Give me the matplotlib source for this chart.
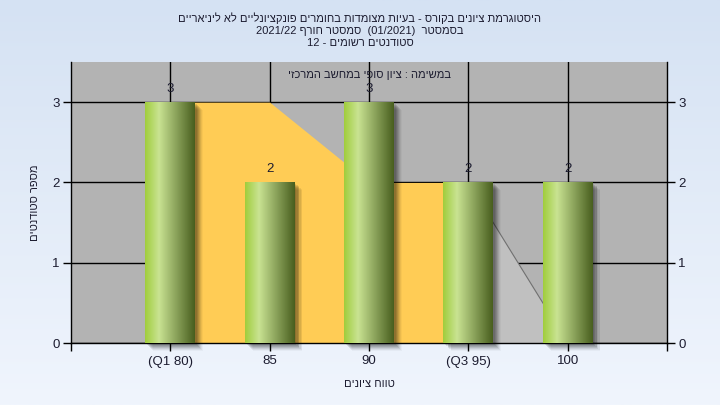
import re

import numpy as np
import matplotlib
matplotlib.use("Agg")
import matplotlib.pyplot as plt
from matplotlib.colors import LinearSegmentedColormap
from matplotlib.patches import Rectangle
from matplotlib.ticker import FixedLocator

# data
categories = ["(Q1 80)", "85", "90", "(Q3 95)", "100"]
counts = [3, 2, 3, 2, 2]
# yellow band (Q1..Q3) and grey tail behind the bars
band_x = [0, 1, 2, 3]
band_y = [3, 3, 2, 2]
tail_x = [3, 4]
tail_y = [2, 0]
y_ticks = [0, 1, 2, 3]

title_lines = [
    "היסטוגרמת ציונים בקורס - בעיות מצומדות בחומרים פונקציונליים לא ליניאריים",
    "בסמסטר  (01/2021)  סמסטר חורף 2021/22",
    "סטודנטים רשומים - 12",
]
inner_title = "במשימה : ציון סופי במחשב המרכזי"
x_label = "טווח ציונים"
y_label = "מספר סטודנטים"


def rtl(s):
    """Put a Hebrew string into visual (left to right) order."""
    out = s[::-1]
    out = re.sub(r"[0-9A-Za-z/.]+", lambda m: m.group(0)[::-1], out)
    return out.translate(str.maketrans("()", ")("))


plt.rcParams["font.family"] = ["Liberation Sans", "DejaVu Sans"]
TXT = "#1c1c30"
HEB_SIZE = 8

fig = plt.figure(figsize=(7.2, 4.05), dpi=100)

# page background gradient
bg = fig.add_axes([0, 0, 1, 1], zorder=0)
grad = np.linspace(0, 1, 256).reshape(-1, 1)
bg.imshow(grad, aspect="auto", extent=(0, 1, 0, 1),
          cmap=LinearSegmentedColormap.from_list("bg", ["#D5E2F3", "#F0F5FD"]))
bg.set_axis_off()

ax = fig.add_axes([71 / 720, 1 - 343 / 405, 596 / 720, 281 / 405], zorder=1)
ax.set_facecolor("#B3B3B3")
ax.set_xlim(-1, 5)
ax.set_ylim(0, 3.5)
px_x = 6 / 596
px_y = 3.5 / 281

ax.set_axisbelow(True)
ax.grid(True, color="black", linewidth=1)

x = np.arange(len(categories))
ax.fill_between(band_x, band_y, 0, color="#FFCC55", linewidth=0, zorder=2)
ax.fill_between(tail_x, tail_y, 0, color="#C0C0C0", linewidth=0, zorder=2)
ax.plot(tail_x, tail_y, color="#707070", linewidth=0.8, zorder=2.5)

bar_cmap = LinearSegmentedColormap.from_list(
    "bar", [(0, "#A0CD3C"), (0.28, "#C9E392"), (0.62, "#8CA45C"), (1, "#485E1E")])
w = 0.5
for xi, h in zip(x, counts):
    # soft drop shadow
    for k, a in zip(range(2, 9), [0.10, 0.10, 0.10, 0.09, 0.07, 0.05, 0.03]):
        ax.add_patch(Rectangle((xi - w / 2 + k * px_x, -k * px_y), w, h,
                               color="black", alpha=a, linewidth=0,
                               zorder=3, clip_on=False))
    ax.imshow(np.linspace(0, 1, 256).reshape(1, -1), cmap=bar_cmap,
              extent=(xi - w / 2, xi + w / 2, 0, h), aspect="auto",
              interpolation="bilinear", zorder=4)
    ax.annotate(str(h), (xi, h), xytext=(0, 5), textcoords="offset points",
                ha="center", va="bottom", fontsize=9.5, color=TXT, zorder=5)

ax.set_xlim(-1, 5)
ax.set_ylim(0, 3.5)

ax.set_xticks(x)
ax.set_xticklabels(categories)
ax.xaxis.set_minor_locator(FixedLocator([-1, 5]))
ax.set_yticks(y_ticks)
ax.tick_params(axis="both", which="both", direction="out", length=6,
               width=1, colors="black", labelcolor=TXT, labelsize=9.5)
ax.tick_params(axis="y", right=True, labelright=True, pad=2)
ax.tick_params(axis="x", pad=3)

for side in ["left", "bottom", "right"]:
    ax.spines[side].set_color("black")
    ax.spines[side].set_linewidth(1)
ax.spines["top"].set_visible(False)

ax.text(0.5, 0.953, rtl(inner_title), transform=ax.transAxes,
        ha="center", va="center", fontsize=HEB_SIZE, color=TXT, zorder=6)

ax.set_xlabel(rtl(x_label), fontsize=HEB_SIZE, color=TXT, labelpad=8)
ax.set_ylabel(rtl(y_label), fontsize=HEB_SIZE, color=TXT, labelpad=9)

for i, line in enumerate(title_lines):
    fig.text(0.5, 1 - (18 + 12.5 * i) / 405, rtl(line), ha="center",
             va="center", fontsize=HEB_SIZE, color=TXT)

fig.savefig("out.png", dpi=100)
